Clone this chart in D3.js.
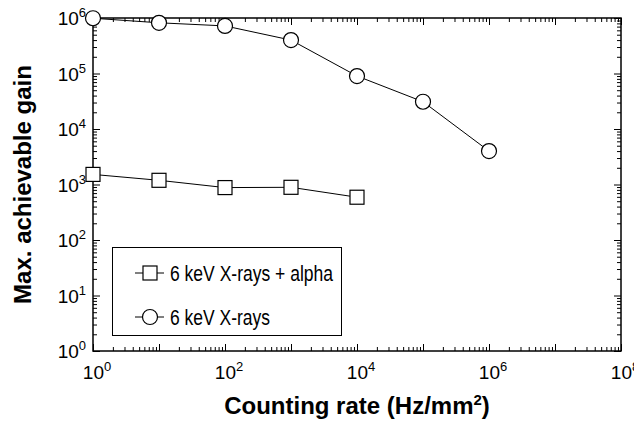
<!DOCTYPE html>
<html><head><meta charset="utf-8">
<script src="https://cdn.jsdelivr.net/npm/d3@7"></script>
<style>
html,body{margin:0;padding:0;background:#fff;}
svg{display:block;}
text{font-family:"Liberation Sans",Arial,sans-serif;fill:#000;}
</style></head>
<body>
<svg id="chart" width="634" height="421"></svg>
<script>
// ---- data ----
const xExponents = [0, 2, 4, 6, 8];           // x tick labels 10^n
const yExponents = [0, 1, 2, 3, 4, 5, 6];     // y tick labels 10^n
const seriesNames = ["6 keV X-rays + alpha", "6 keV X-rays"];
const ratesAlpha = [1, 10, 100, 1000, 10000];
const gainAlpha = [1520, 1190, 880, 890, 590];
const ratesXrays = [1, 10, 100, 1000, 10000, 100000, 1000000];
const gainXrays = [990000, 820000, 720000, 400000, 90000, 31000, 4000];
const xTitle = "Counting rate (Hz/mm";
const yTitle = "Max. achievable gain";

// ---- layout ----
const L = 93, R = 621, T = 18, B = 351;
const svg = d3.select("#chart");
const x = d3.scaleLog().domain([1, 1e8]).range([L, R]);
const y = d3.scaleLog().domain([1, 1e6]).range([B, T]);

function logTicks(lo, hi) {
  const major = [], minor = [];
  for (let e = lo; e <= hi; e++) {
    major.push(Math.pow(10, e));
    if (e < hi) for (let m = 2; m <= 9; m++) minor.push(m * Math.pow(10, e));
  }
  return {major, minor};
}
const xt = logTicks(0, 8), yt = logTicks(0, 6);

function addAxis(axisFn, scale, vals, size, transform) {
  const g = svg.append("g").attr("transform", transform)
    .call(axisFn(scale).tickValues(vals).tickSize(size).tickFormat(""));
  g.select(".domain").remove();
  g.selectAll(".tick line").attr("stroke", "#000").attr("stroke-width", 1);
}
addAxis(d3.axisBottom, x, xt.major, -7, `translate(0,${B})`);
addAxis(d3.axisBottom, x, xt.minor, -4, `translate(0,${B})`);
addAxis(d3.axisTop, x, xt.major, -7, `translate(0,${T})`);
addAxis(d3.axisTop, x, xt.minor, -4, `translate(0,${T})`);
addAxis(d3.axisLeft, y, yt.major, -7, `translate(${L},0)`);
addAxis(d3.axisLeft, y, yt.minor, -4, `translate(${L},0)`);
addAxis(d3.axisRight, y, yt.major, -7, `translate(${R},0)`);
addAxis(d3.axisRight, y, yt.minor, -4, `translate(${R},0)`);

svg.append("rect").attr("x", L).attr("y", T).attr("width", R - L).attr("height", B - T)
  .attr("fill", "none").attr("stroke", "#000").attr("stroke-width", 1.5);

// tick labels
xExponents.forEach(e => {
  const t = svg.append("text").attr("x", x(Math.pow(10, e)) + 4).attr("y", 379)
    .attr("text-anchor", "middle").attr("font-size", 19);
  t.append("tspan").text("10");
  t.append("tspan").attr("dy", -8).attr("font-size", 13).text(e);
});
yExponents.forEach(e => {
  const t = svg.append("text").attr("x", 86).attr("y", y(Math.pow(10, e)) + 7)
    .attr("text-anchor", "end").attr("font-size", 19);
  t.append("tspan").text("10");
  t.append("tspan").attr("dy", -8).attr("font-size", 13).text(e);
});

// axis titles
const xt_ = svg.append("text").attr("x", (L + R) / 2).attr("y", 414)
  .attr("text-anchor", "middle").attr("font-size", 24).attr("font-weight", "bold");
xt_.append("tspan").text(xTitle);
xt_.append("tspan").attr("dy", -9).attr("font-size", 15).text("2");
xt_.append("tspan").attr("dy", 9).text(")");

svg.append("text").attr("transform", `translate(31,${(T + B) / 2}) rotate(-90)`)
  .attr("text-anchor", "middle").attr("font-size", 24).attr("font-weight", "bold")
  .text(yTitle);

// lines
const line = d3.line().x(d => x(d[0])).y(d => y(d[1]));
const alphaPts = d3.zip(ratesAlpha, gainAlpha);
const xrayPts = d3.zip(ratesXrays, gainXrays);
[alphaPts, xrayPts].forEach(pts => {
  svg.append("path").attr("d", line(pts)).attr("fill", "none")
    .attr("stroke", "#000").attr("stroke-width", 1);
});
const S = 14, RC = 7.5;
svg.selectAll(".sq").data(alphaPts).join("rect").attr("class", "sq")
  .attr("x", d => x(d[0]) - S / 2).attr("y", d => y(d[1]) - S / 2)
  .attr("width", S).attr("height", S)
  .attr("fill", "#fff").attr("stroke", "#000").attr("stroke-width", 1.2);
svg.selectAll(".ci").data(xrayPts).join("circle").attr("class", "ci")
  .attr("cx", d => x(d[0])).attr("cy", d => y(d[1])).attr("r", RC)
  .attr("fill", "#fff").attr("stroke", "#000").attr("stroke-width", 1.2);

// legend
const lg = svg.append("g");
lg.append("rect").attr("x", 112.5).attr("y", 247.5).attr("width", 229).attr("height", 88)
  .attr("fill", "#fff").attr("stroke", "#000").attr("stroke-width", 1);
const legY = [273, 317];
const legLen = [163, 100];
legY.forEach((ly, i) => {
  lg.append("line").attr("x1", 135).attr("x2", 164).attr("y1", ly).attr("y2", ly)
    .attr("stroke", "#000").attr("stroke-width", 1);
  if (i === 0) {
    lg.append("rect").attr("x", 150 - S / 2).attr("y", ly - S / 2).attr("width", S).attr("height", S)
      .attr("fill", "#fff").attr("stroke", "#000").attr("stroke-width", 1.2);
  } else {
    lg.append("circle").attr("cx", 150).attr("cy", ly).attr("r", RC)
      .attr("fill", "#fff").attr("stroke", "#000").attr("stroke-width", 1.2);
  }
  lg.append("text").attr("x", 170).attr("y", ly + 8).attr("font-size", 22)
    .attr("textLength", legLen[i]).attr("lengthAdjust", "spacingAndGlyphs")
    .text(seriesNames[i]);
});
</script>
</body></html>
